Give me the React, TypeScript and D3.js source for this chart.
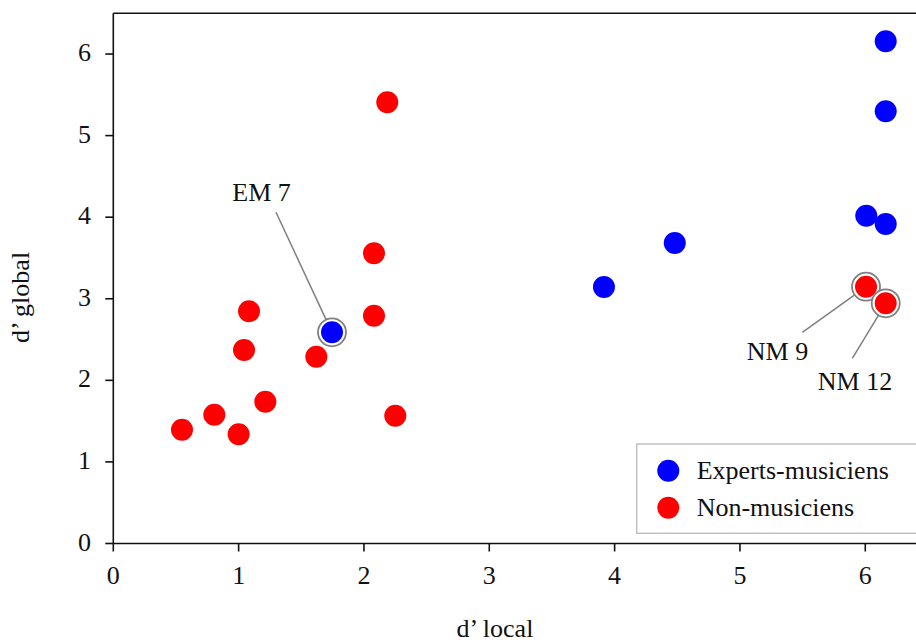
import React from "react";
import * as d3 from "d3";

// Experts-musiciens (blue)
const expertsLocal = [1.745, 3.915, 4.48, 6.008, 6.163, 6.163, 6.163];
const expertsGlobal = [2.589, 3.144, 3.683, 4.018, 3.916, 5.298, 6.156];
const expertsIds = ["EM 7", "", "", "", "", "", ""];

// Non-musiciens (red)
const nonLocal = [2.186, 2.08, 2.08, 1.083, 1.043, 1.62, 1.213, 0.806, 0.548, 1.0, 2.25, 6.006, 6.163];
const nonGlobal = [5.408, 3.557, 2.792, 2.846, 2.372, 2.29, 1.738, 1.579, 1.395, 1.339, 1.567, 3.148, 2.944];
const nonIds = ["", "", "", "", "", "", "", "", "", "", "", "NM 9", "NM 12"];

const xTicks = [0, 1, 2, 3, 4, 5, 6];
const yTicks = [0, 1, 2, 3, 4, 5, 6];
const legendLabels = ["Experts-musiciens", "Non-musiciens"];
const seriesColors = ["#0000ff", "#ff0000"];

// label offsets (pixels) relative to the annotated point: [textDx, textBaselineDy, lineDx, lineDy]
const annotationOffsets: Record<string, number[]> = {
  "EM 7": [-70.5, -131.3, -56, -120],
  "NM 9": [-88.5, 73, -63.7, 45.7],
  "NM 12": [-30.7, 86.7, -33.4, 55],
};

const W = 916;
const H = 644;
const FONT = "'Liberation Serif', 'DejaVu Serif', serif";
const FS = 26;

export default function App() {
  const left = 113.3;
  const unitX = 125.33;
  const bottom = 543.5;
  const unitY = 81.58;
  const x = d3.scaleLinear().domain([0, 6.5]).range([left, left + 6.5 * unitX]);
  const y = d3.scaleLinear().domain([0, 6.5]).range([bottom, bottom - 6.5 * unitY]);
  const [x0, x1] = x.range();
  const [y0, y1] = y.range();
  const r = 11;
  const ringR = 14;

  const series = [
    { xs: expertsLocal, ys: expertsGlobal, ids: expertsIds, color: seriesColors[0] },
    { xs: nonLocal, ys: nonGlobal, ids: nonIds, color: seriesColors[1] },
  ];

  const annotations: any[] = [];
  series.forEach((s) =>
    s.ids.forEach((id, i) => {
      if (id) annotations.push({ id, px: x(s.xs[i]), py: y(s.ys[i]) });
    })
  );

  const axisColor = "#111";
  const axisW = 1.6;

  return (
    <svg
      width={W}
      height={H}
      style={{ position: "absolute", left: 0, top: 0, background: "#fff" }}
      fontFamily={FONT}
    >
      <rect x={0} y={0} width={W} height={H} fill="#fff" />
      {/* legend */}
      <rect x={636.7} y={444} width={300} height={89.3} fill="#fff" stroke="#bdbdbd" strokeWidth={1.4} />
      {legendLabels.map((lab, i) => (
        <g key={lab}>
          <circle cx={668.3} cy={470.7 + i * 37} r={r} fill={seriesColors[i]} />
          <text x={696.7} y={479.3 + i * 37} fontSize={FS} fill="#111">
            {lab}
          </text>
        </g>
      ))}

      {/* annotation lines and labels */}
      {annotations.map((a) => {
        const [tdx, tdy, ldx, ldy] = annotationOffsets[a.id];
        const sx = a.px + ldx;
        const sy = a.py + ldy;
        const len = Math.hypot(ldx, ldy);
        const ex = a.px + (ldx / len) * ringR;
        const ey = a.py + (ldy / len) * ringR;
        return (
          <g key={a.id}>
            <line x1={sx} y1={sy} x2={ex} y2={ey} stroke="#808080" strokeWidth={1.5} />
            <text x={a.px + tdx} y={a.py + tdy} fontSize={FS} textAnchor="middle" fill="#111">
              {a.id}
            </text>
          </g>
        );
      })}

      {/* points */}
      {series.map((s, si) =>
        s.xs.map((v, i) => (
          <g key={`${si}-${i}`}>
            {s.ids[i] ? (
              <circle cx={x(v)} cy={y(s.ys[i])} r={ringR} fill="#fff" stroke="#808080" strokeWidth={1.8} />
            ) : null}
            <circle cx={x(v)} cy={y(s.ys[i])} r={r} fill={s.color} />
          </g>
        ))
      )}

      {/* spines */}
      <line x1={x0} y1={y0} x2={x0} y2={y1} stroke={axisColor} strokeWidth={axisW} />
      <line x1={x0} y1={y1} x2={x1} y2={y1} stroke={axisColor} strokeWidth={axisW} />
      <line x1={x0} y1={y0} x2={x1} y2={y0} stroke={axisColor} strokeWidth={axisW} />
      <line x1={x1} y1={y0} x2={x1} y2={y1} stroke={axisColor} strokeWidth={axisW} />

      {/* x ticks */}
      {xTicks.map((t) => (
        <g key={`xt${t}`}>
          <line x1={x(t)} x2={x(t)} y1={y0} y2={y0 + 8} stroke={axisColor} strokeWidth={axisW} />
          <text x={x(t)} y={y0 + 40} fontSize={FS} textAnchor="middle" fill="#111">
            {t}
          </text>
        </g>
      ))}
      {/* y ticks */}
      {yTicks.map((t) => (
        <g key={`yt${t}`}>
          <line x1={x0 - 8} x2={x0} y1={y(t)} y2={y(t)} stroke={axisColor} strokeWidth={axisW} />
          <text x={91} y={y(t) + 7} fontSize={FS} textAnchor="end" fill="#111">
            {t}
          </text>
        </g>
      ))}

      {/* axis labels */}
      <text x={495} y={637} fontSize={FS} textAnchor="middle" fill="#111">
        d’ local
      </text>
      <text
        transform={`translate(28.5, 297.5) rotate(-90)`}
        fontSize={FS}
        textAnchor="middle"
        fill="#111"
      >
        d’ global
      </text>
    </svg>
  );
}
